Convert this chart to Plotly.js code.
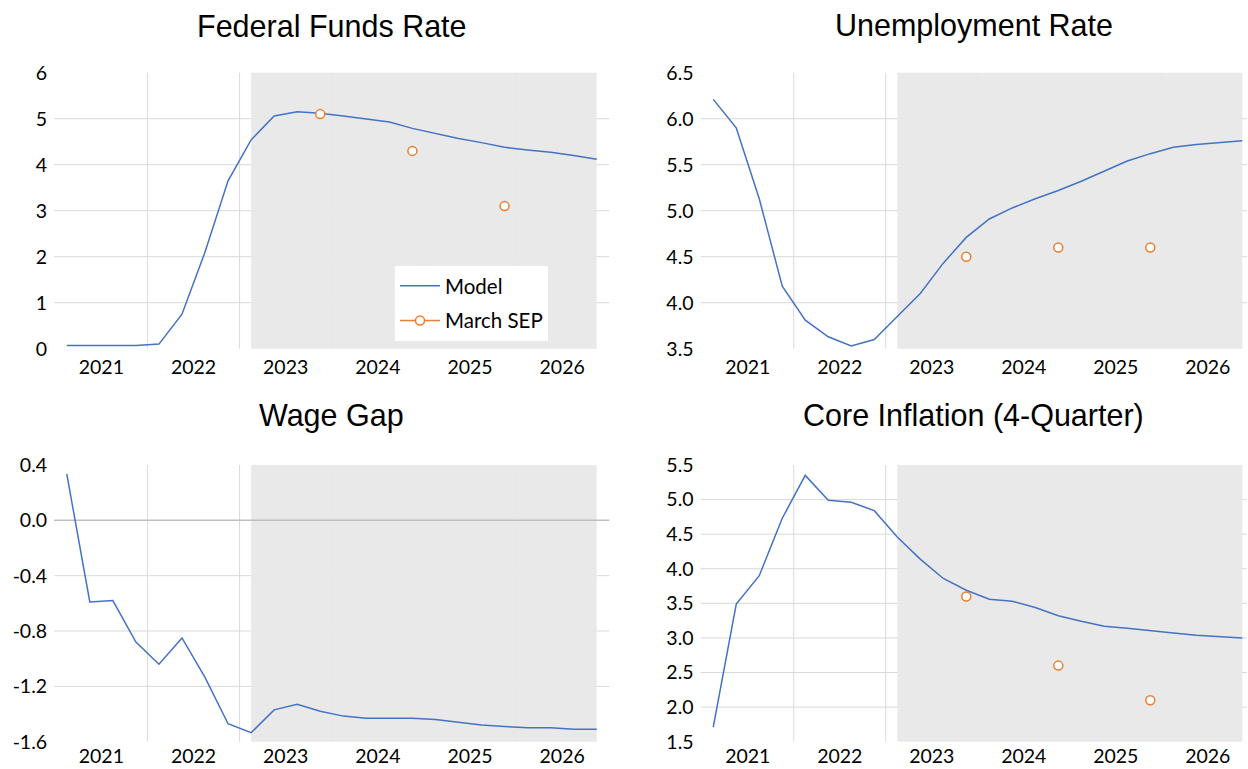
<!DOCTYPE html>
<html><head><meta charset="utf-8">
<script src="https://cdn.plot.ly/plotly-3.0.1.min.js"></script>
<style>html,body{margin:0;padding:0;background:#fff}#chart{width:1248px;height:769px}</style>
</head><body><div id="chart"></div>
<script>
// ---- data ----
const quarters = ['2021Q1','2021Q2','2021Q3','2021Q4','2022Q1','2022Q2','2022Q3','2022Q4',
  '2023Q1','2023Q2','2023Q3','2023Q4','2024Q1','2024Q2','2024Q3','2024Q4',
  '2025Q1','2025Q2','2025Q3','2025Q4','2026Q1','2026Q2','2026Q3','2026Q4'];
const years = ['2021','2022','2023','2024','2025','2026'];
const forecastStart = '2023Q1';

const ffrModel  = [0.07,0.07,0.07,0.07,0.10,0.75,2.10,3.65,4.54,5.06,5.15,5.12,5.06,5.00,4.93,4.79,4.68,4.57,4.48,4.38,4.32,4.27,4.20,4.12];
const urModel   = [6.21,5.90,5.13,4.18,3.81,3.63,3.53,3.60,3.85,4.10,4.43,4.71,4.91,5.03,5.13,5.22,5.32,5.43,5.54,5.62,5.69,5.72,5.74,5.76];
const wageModel = [0.335,-0.59,-0.58,-0.88,-1.04,-0.85,-1.135,-1.47,-1.535,-1.37,-1.33,-1.38,-1.415,-1.43,-1.43,-1.43,-1.44,-1.46,-1.48,-1.49,-1.50,-1.50,-1.51,-1.51];
const coreModel = [1.71,3.49,3.90,4.73,5.35,4.99,4.96,4.84,4.46,4.14,3.86,3.69,3.56,3.53,3.44,3.32,3.24,3.17,3.14,3.10,3.07,3.04,3.02,3.00];

const sepQuarters = ['2023Q4','2024Q4','2025Q4'];
const ffrSEP  = [5.1,4.3,3.1];
const urSEP   = [4.5,4.6,4.6];
const coreSEP = [3.6,2.6,2.1];

const ffrTicks  = [0,1,2,3,4,5,6];
const ffrTickText = ['0','1','2','3','4','5','6'];
const urTicks   = [3.5,4.0,4.5,5.0,5.5,6.0,6.5];
const urTickText = ['3.5','4.0','4.5','5.0','5.5','6.0','6.5'];
const wageTicks = [-1.6,-1.2,-0.8,-0.4,0.0,0.4];
const wageTickText = ['-1.6','-1.2','-0.8','-0.4','0.0','0.4'];
const coreTicks = [1.5,2.0,2.5,3.0,3.5,4.0,4.5,5.0,5.5];
const coreTickText = ['1.5','2.0','2.5','3.0','3.5','4.0','4.5','5.0','5.5'];

const titles = ['Federal Funds Rate','Unemployment Rate','Wage Gap','Core Inflation (4-Quarter)'];
const seriesNames = ['Model','March SEP'];

// ---- build ----
const W = 1248, H = 769;
const BLUE = '#4472C4', ORANGE = '#ED7D31', GRID = '#d9d9d9';
const xIdx = quarters.map((q,i)=>i);
const yearPos = years.map(y => {
  const idx = quarters.map((q,i)=>q.startsWith(y)?i:null).filter(v=>v!==null);
  return idx.reduce((a,b)=>a+b,0)/idx.length;
});
const yearBounds = quarters.map((q,i)=>(q.endsWith('Q1') && i>0) ? i-0.5 : null).filter(v=>v!==null);
const fStart = quarters.indexOf(forecastStart);
const fEnd = quarters.length-1;

function sepArr(vals){
  const a = quarters.map(()=>null);
  sepQuarters.forEach((q,k)=>{ a[quarters.indexOf(q)] = vals[k]; });
  return a;
}

const panels = [
  {model: ffrModel,  sep: ffrSEP,  ticks: ffrTicks,  text: ffrTickText,  range:[0,6],     xpx:[54.1,609.4], xr:[-0.55,23.55], ypx:[72.7,348.7], zero:false, xs:5},
  {model: urModel,   sep: urSEP,   ticks: urTicks,   text: urTickText,   range:[3.5,6.5], xpx:[700.6,1246.9], xr:[-0.55,23.2], ypx:[72.7,348.7], zero:false, xs:5},
  {model: wageModel, sep: null,    ticks: wageTicks, text: wageTickText, range:[-1.6,0.4],xpx:[54.1,609.4], xr:[-0.55,23.55], ypx:[465,741.7], zero:true, xs:1},
  {model: coreModel, sep: coreSEP, ticks: coreTicks, text: coreTickText, range:[1.5,5.5], xpx:[700.6,1246.9], xr:[-0.55,23.2], ypx:[465,741.7], zero:false, xs:1}
];

const tickFont = {family:'Lato, "Open Sans", sans-serif', size:19.5, color:'#000'};
const traces = [], shapes = [], annotations = [];
const layout = {
  width: W, height: H, margin:{l:0,r:0,t:0,b:0},
  paper_bgcolor:'#fff', plot_bgcolor:'rgba(0,0,0,0)',
  showlegend:true,
  legend:{x:395/W, y:1-266/H, xanchor:'left', yanchor:'top', bgcolor:'#fff',
          font:{family:'Lato, "Open Sans", sans-serif', size:20.5, color:'#000'},
          tracegroupgap:5, traceorder:'grouped', itemwidth:40},
  shapes: shapes, annotations: annotations
};

panels.forEach((p,i)=>{
  const n = i+1;
  const xa = 'x'+(n===1?'':n), ya = 'y'+(n===1?'':n);
  const xk = 'xaxis'+(n===1?'':n), yk = 'yaxis'+(n===1?'':n);
  layout[xk] = {domain:[p.xpx[0]/W, p.xpx[1]/W], range:p.xr, anchor:ya,
    tickmode:'array', tickvals:yearPos, ticktext:years, ticks:'', showgrid:false, zeroline:false,
    showline:false, tickfont:tickFont, ticklabelstandoff:p.xs, fixedrange:true};
  layout[yk] = {domain:[1-p.ypx[1]/H, 1-p.ypx[0]/H], range:p.range, anchor:xa,
    tickmode:'array', tickvals:p.ticks, ticktext:p.text, ticks:'', showgrid:false, zeroline:false,
    showline:false, tickfont:tickFont, ticklabelstandoff:6, fixedrange:true};

  yearBounds.forEach(b=>shapes.push({type:'line', layer:'below', xref:xa, yref:ya+' domain',
    x0:b, x1:b, y0:0, y1:1, line:{color:GRID, width:1}}));
  p.ticks.forEach(t=>{
    if (t===p.range[0] || t===p.range[1]) return;
    if (p.zero && t===0) return;
    shapes.push({type:'line', layer:'below', xref:xa+' domain', yref:ya,
      x0:0, x1:1, y0:t, y1:t, line:{color:GRID, width:1}});
  });
  shapes.push({type:'rect', layer:'below', xref:xa, yref:ya+' domain',
    x0:fStart, x1:fEnd, y0:0, y1:1, fillcolor:'rgba(231,231,231,0.93)', line:{width:0}});
  if (p.zero) shapes.push({type:'line', layer:'below', xref:xa+' domain', yref:ya,
      x0:0, x1:1, y0:0, y1:0, line:{color:'#bfbfbf', width:1.5}});

  traces.push({type:'scatter', mode:'lines', x:xIdx, y:p.model, xaxis:xa, yaxis:ya,
    name:seriesNames[0], showlegend:i===0, legendgroup:'m',
    line:{color:BLUE, width:1.5}, hoverinfo:'skip'});
  if (p.sep) traces.push({type:'scatter', mode:'lines+markers', x:xIdx, y:sepArr(p.sep), xaxis:xa, yaxis:ya,
    name:seriesNames[1], showlegend:i===0, legendgroup:'s', connectgaps:false,
    line:{color:ORANGE, width:1.5},
    marker:{symbol:'circle', size:9, color:'#fff', line:{color:ORANGE, width:1.5}}, hoverinfo:'skip'});

  annotations.push({text:titles[i], xref:'paper', yref:'paper',
    x:(p.xpx[0]+p.xpx[1])/2/W, y:1-(i<2?25.5:415)/H, xanchor:'center', yanchor:'middle',
    showarrow:false, font:{family:'"Liberation Sans", Arial, sans-serif', size:30.5, color:'#000'}});
});

Plotly.newPlot('chart', traces, layout, {displayModeBar:false, staticPlot:true});
</script>
</body></html>
